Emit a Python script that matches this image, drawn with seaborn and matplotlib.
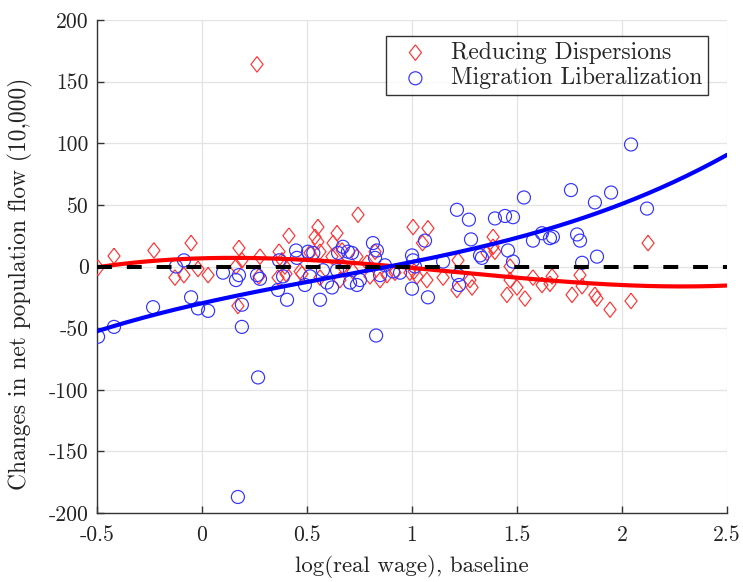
import numpy as np
import pandas as pd
import matplotlib
matplotlib.use("Agg")
import matplotlib.pyplot as plt
import seaborn as sns

# ---------------- data ----------------
red_x = [-0.495, -0.419, -0.229, -0.052, -0.129, -0.086, -0.019, 0.029,
         0.176, 0.190, 0.162, 0.171, 0.276, 0.367, 0.414, 0.362, 0.400, 0.476,
         0.262, 0.271, 0.381, 0.395, 0.467, 0.538, 0.514,
         0.743, 0.552, 0.643, 0.552, 0.624, 0.562, 0.619, 0.667, 0.738, 0.671,
         0.719, 0.786, 0.824, 0.800, 0.848, 0.881, 0.919, 1.005, 0.990, 1.024,
         0.562, 0.657,
         1.076, 1.050, 1.010, 1.071, 1.148, 1.219, 1.214, 1.276, 1.286, 1.386,
         1.386, 1.357, 1.395, 1.467, 1.467, 1.452, 1.500,
         1.538, 1.576, 1.619, 1.667, 1.657, 1.762, 1.800, 1.810, 1.871, 1.881,
         1.943, 2.124, 2.043]
red_y = [-1, 8.5, 13, 19, -9, -7, -2, -7,
         15, 5, 0, -32, 8, 12, 25, -9, -6, -6,
         164, -8, 5, 0, -4, 24, 11,
         42, 32, 27, 20, 19, 12, 8, 13, 8, 0,
         -4, 3, 12, -8, -11, -7, -5, 32, -5, -8,
         -9, -11,
         31, 19, -4, -11, -9, 5, -19, -11, -17, 24,
         16, 11, 12, 0, -11, -23, -17,
         -26, -9, -15, -8, -14, -23, -7, -16, -23, -26,
         -35, 19, -28]

blue_x = [-0.495, -0.419, -0.233, -0.052, -0.019, 0.029, -0.086, -0.124,
          0.100, 0.162, 0.176, 0.190, 0.190, 0.262, 0.276, 0.367, 0.448, 0.452,
          0.405, 0.362, 0.386, 0.490, 0.505, 0.267, 0.171, 0.514,
          0.562, 0.530, 0.576, 0.595, 0.619, 0.643, 0.648, 0.671, 0.695, 0.714,
          0.705, 0.738, 0.752, 0.814, 0.833, 0.824, 0.871, 0.848, 0.910, 0.943,
          1.000, 1.005, 1.000, 1.076, 0.829,
          1.214, 1.271, 1.395, 1.443, 1.481, 1.281, 1.062, 1.148, 1.324, 1.333,
          1.457, 1.481, 1.219, 1.224, 1.014,
          1.533, 1.576, 1.619, 1.657, 1.671, 1.757, 1.786, 1.800, 1.810, 1.881,
          1.871, 1.948, 2.043, 2.119]
blue_y = [-57, -49, -33, -25, -34, -36, 5, 0,
          -5, -11, -7, -31, -49, -7, -10, 5, 13, 7,
          -27, -19, -8, -15, 12, -90, -187, -8,
          -27, 11, -3, -13, -17, -3, 11, 16, 12, 11,
          -13, -15, -11, 19, 13, 7, 1, -7, -4, -5,
          9, 5, -18, -25, -56,
          46, 38, 39, 41, 40, 22, 21, 4, 9, 7,
          13, 4, -7, -15, 0,
          56, 21, 27, 23, 24, 62, 26, 21, 3, 8,
          52, 60, 99, 47]

fit_x = [-0.5, -0.25, 0.0, 0.25, 0.5, 0.75, 1.0, 1.25, 1.5, 1.75, 2.0, 2.25, 2.5]
red_fit = [-1, 4.5, 7, 7, 5, 3, -1, -6, -10, -12, -14, -16, -16]
blue_fit = [-51.5, -42, -30, -20, -12, -4, 3, 13, 23, 35, 51, 70, 90]

series_names = ["Reducing Dispersions", "Migration Liberalization"]
x_ticks = [-0.5, 0, 0.5, 1, 1.5, 2, 2.5]
x_tick_labels = ["-0.5", "0", "0.5", "1", "1.5", "2", "2.5"]
y_ticks = [-200, -150, -100, -50, 0, 50, 100, 150, 200]

# smooth trend lines: cubic least-squares through the read curve samples
grid = np.linspace(fit_x[0], fit_x[-1], 200)
red_curve = np.polyval(np.polyfit(fit_x, red_fit, 3), grid)
blue_curve = np.polyval(np.polyfit(fit_x, blue_fit, 3), grid)

# ---------------- style ----------------
sns.set_style("white")
plt.rcParams["font.family"] = ["cmr10", "DejaVu Serif"]
plt.rcParams["mathtext.fontset"] = "cm"
plt.rcParams["axes.unicode_minus"] = False
plt.rcParams["axes.formatter.use_mathtext"] = True

fig = plt.figure(figsize=(7.43, 5.82), dpi=100)
ax = fig.add_axes([97 / 743, 1 - 513 / 582, 630 / 743, 493 / 582])

red_df = pd.DataFrame({"x": red_x, "y": red_y})
blue_df = pd.DataFrame({"x": blue_x, "y": blue_y})

diamond = [(0, 1), (0.78, 0), (0, -1), (-0.78, 0), (0, 1)]

sns.scatterplot(data=red_df, x="x", y="y", ax=ax, marker=diamond, s=125,
                facecolors="none", edgecolor=(1, 0.2, 0.2), linewidth=0.85,
                label=series_names[0], zorder=3)
sns.scatterplot(data=blue_df, x="x", y="y", ax=ax, marker="o", s=88,
                facecolors="none", edgecolor=(0.2, 0.2, 1), linewidth=0.85,
                label=series_names[1], zorder=3)

sns.lineplot(x=grid, y=red_curve, ax=ax, color="red", linewidth=3,
             zorder=4, legend=False)
sns.lineplot(x=grid, y=blue_curve, ax=ax, color="blue", linewidth=3,
             zorder=4, legend=False)
ax.axhline(0, color="black", linewidth=2.9, linestyle=(0, (3.7, 3.7)), zorder=5)

ax.set_xlim(-0.5, 2.5)
ax.set_ylim(-200, 200)
ax.set_xticks(x_ticks)
ax.set_xticklabels(x_tick_labels)
ax.set_yticks(y_ticks)
ax.set_yticklabels([str(v) for v in y_ticks])

ax.grid(True, color="#e3e3e3", linewidth=0.9)
ax.set_axisbelow(True)
for side in ["top", "right"]:
    ax.spines[side].set_visible(False)
for side in ["left", "bottom"]:
    ax.spines[side].set_color("#333333")
    ax.spines[side].set_linewidth(1.0)
ax.tick_params(axis="both", direction="in", length=5, width=1.0,
               colors="#333333", labelcolor="#222222", labelsize=15.5,
               left=True, bottom=True, top=False, right=False)
ax.tick_params(axis="x", pad=9)
ax.tick_params(axis="y", pad=6)

ax.set_xlabel("log(real wage), baseline", fontsize=16.5, color="#222222", labelpad=7)
ax.set_ylabel("Changes in net population flow (10,000)", fontsize=16.9,
              color="#222222")
ax.yaxis.set_label_coords(-0.101, 0.465)

leg = ax.legend(loc="upper right", bbox_to_anchor=(0.97, 0.968), fontsize=17,
                frameon=True, fancybox=False, edgecolor="black",
                borderpad=0.25, handletextpad=0.5, labelspacing=0.15,
                handlelength=2.0, borderaxespad=0)
leg.get_frame().set_linewidth(1.0)

fig.savefig("out.png", dpi=100)
